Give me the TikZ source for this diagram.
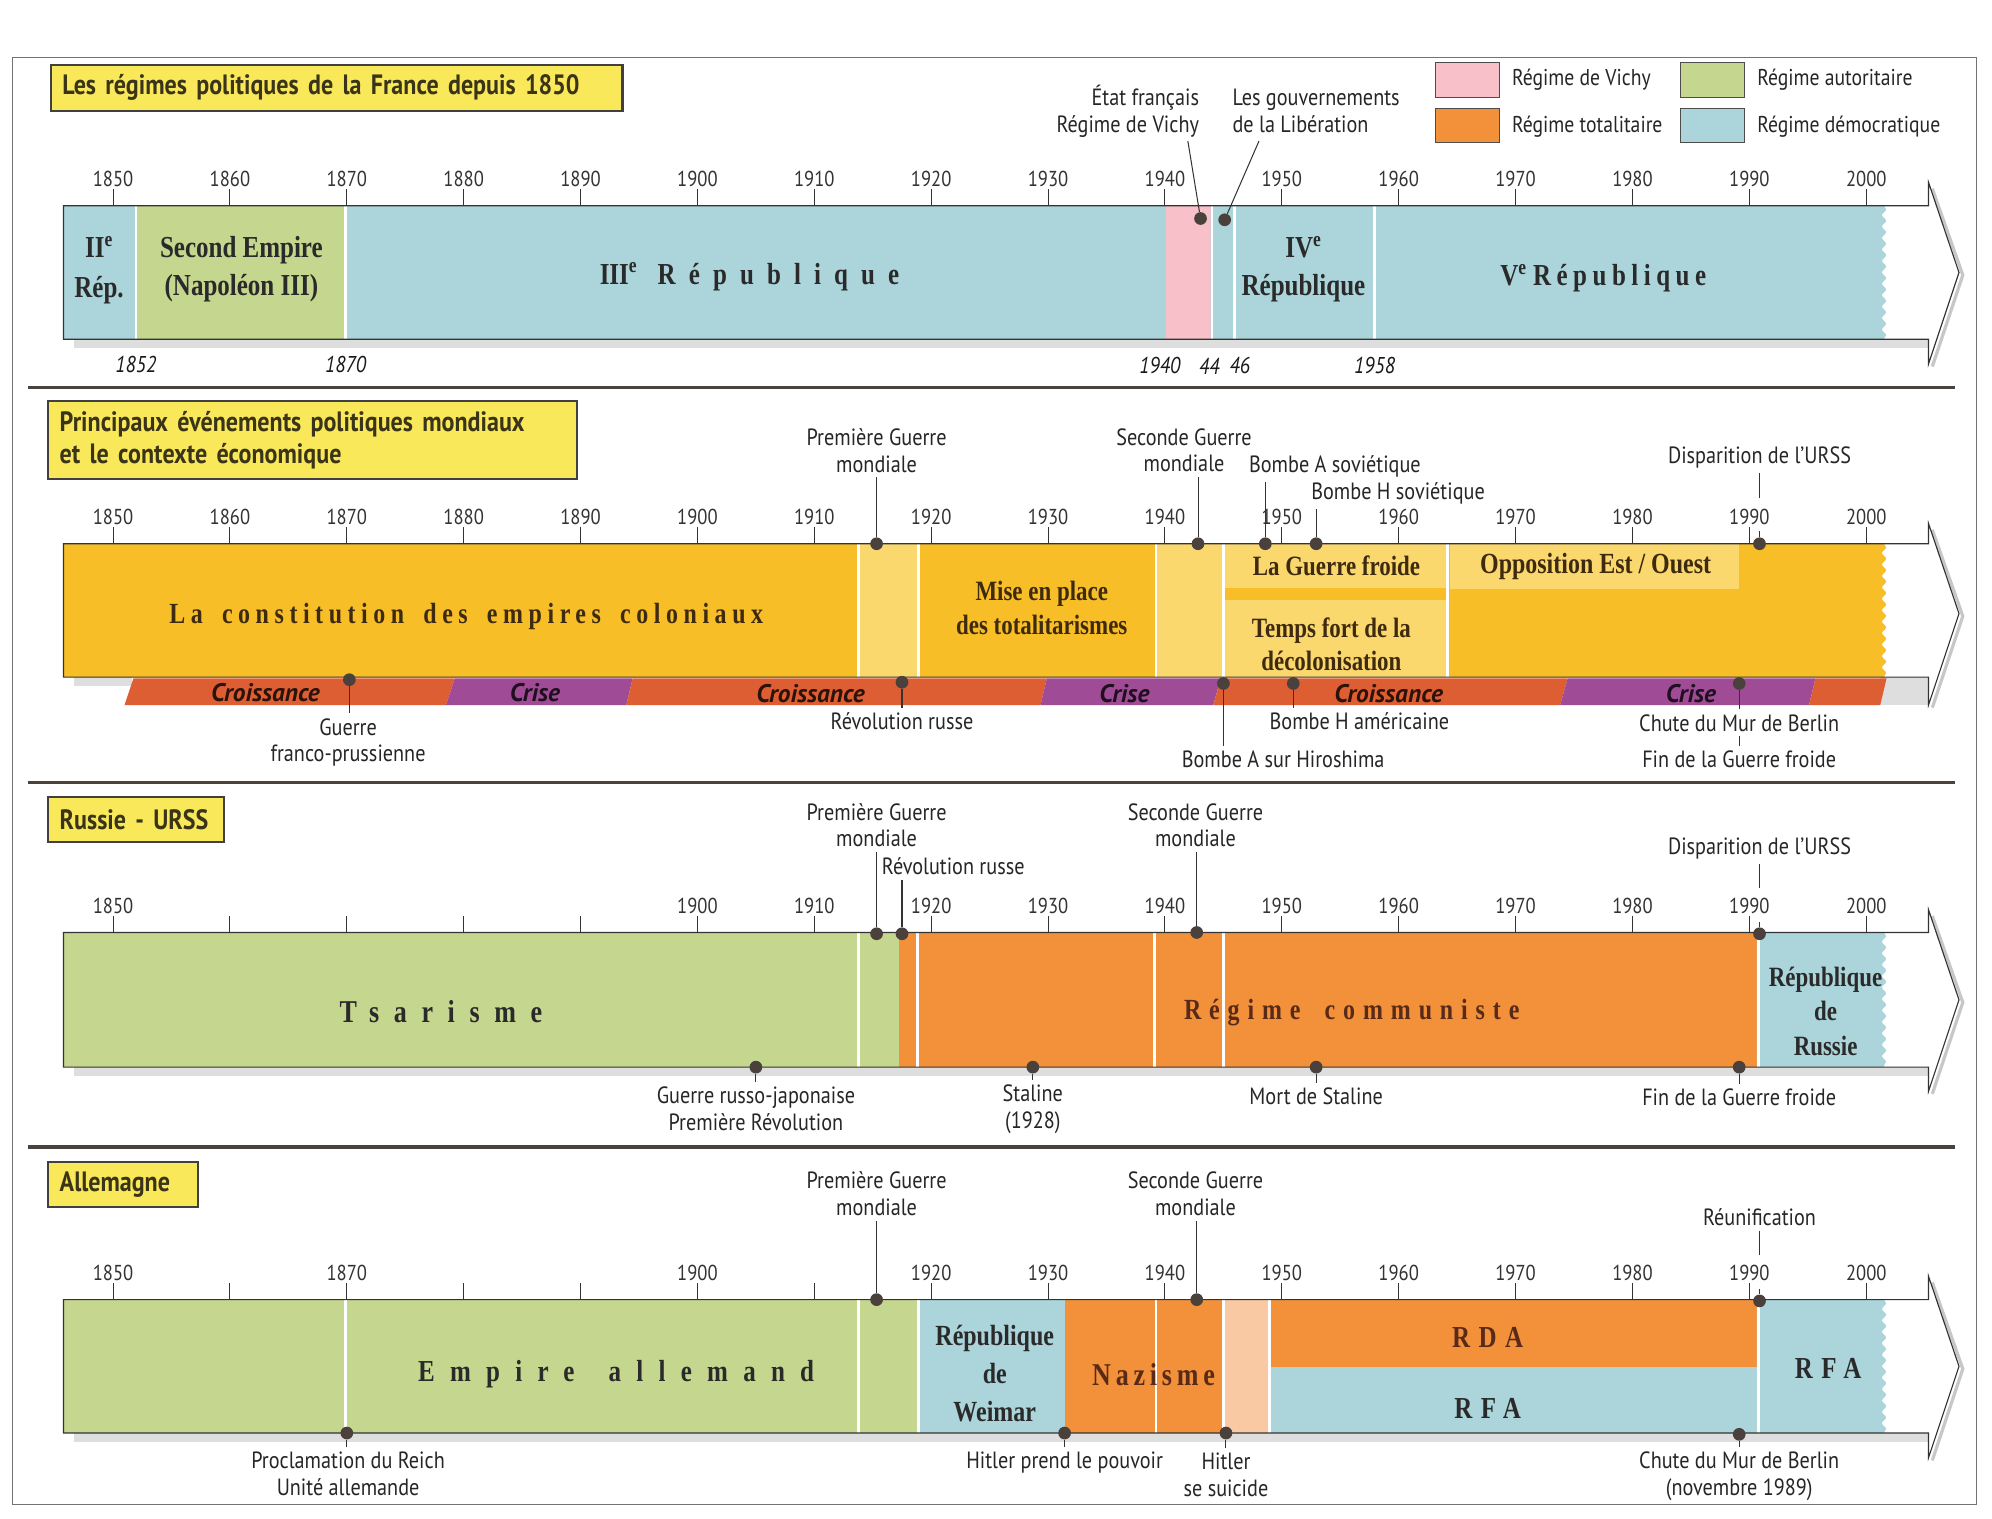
\documentclass[tikz,border=0pt]{standalone}
\usepackage{fontspec}
\setmainfont[FakeStretch=0.86]{PT Sans}
\newfontfamily\sansw{PT Sans}
\newfontfamily\serfont[FakeStretch=0.82]{Liberation Serif}
\usetikzlibrary{decorations.pathmorphing}
\definecolor{demo}{HTML}{ACD5DB}
\definecolor{agreen}{HTML}{C5D68E}
\definecolor{vichy}{HTML}{F8C0C8}
\definecolor{tota}{HTML}{F2913A}
\definecolor{peach}{HTML}{F9C9A4}
\definecolor{ttlyel}{HTML}{F9E85A}
\definecolor{evmain}{HTML}{F7BE28}
\definecolor{evlight}{HTML}{FAD86E}
\definecolor{croi}{HTML}{DE5E34}
\definecolor{crise}{HTML}{A04B96}
\definecolor{dotc}{HTML}{4A403C}
\definecolor{sepc}{HTML}{4B423E}
\definecolor{txtc}{HTML}{2A2A2A}
\definecolor{brn}{HTML}{5A2A18}
\definecolor{evtc}{HTML}{3E2A0E}
\definecolor{ttltxt}{HTML}{3A3418}
\tikzset{
  yrlbl/.style={font=\fontsize{17}{17}\selectfont, text=black!80, inner sep=0pt},
  itlbl/.style={font=\itshape\fontsize{18}{18}\selectfont, text=black!90, inner sep=0pt},
  evtxt/.style={font=\fontsize{18.5}{21}\selectfont, text=black!85, align=center, inner sep=0pt, outer ysep=4pt},
  dotn/.style={circle, fill=dotc, inner sep=0pt, minimum size=10pt},
  lnk/.style={draw=black!80, line width=0.8pt},
  tickln/.style={draw=black!80, line width=0.8pt},
  ttlbox/.style={draw=black!75, line width=1.6pt, fill=ttlyel, font=\bfseries\fontsize{22}{25}\selectfont, text=ttltxt, align=left, inner xsep=9pt, inner ysep=0pt},
  legbox/.style={draw=black!70, line width=0.8pt, minimum width=50pt, minimum height=27pt, inner sep=0pt},
  legtxt/.style={font=\fontsize{18}{18}\selectfont, text=black!85, anchor=west, inner sep=0pt},
  ser/.style={font=\serfont\bfseries\fontsize{23}{30}\selectfont, text=txtc, align=center, inner sep=0pt},
  econ/.style={font=\sansw\bfseries\itshape\fontsize{20}{20}\selectfont, inner sep=0pt},
}
\newcommand\wavyfill[4]{\fill[#1] (#2,#3) -- (1483,#3) decorate[decoration={snake,amplitude=1.6pt,segment length=9pt}]{-- (1483,#4)} -- (#2,#4) -- cycle;}
\newcommand\wsep[3]{\draw[white, line width=2.2pt] (#1,#2) -- (#1,#3);}
\newcommand\barframe[3]{%
  \draw[black!22, line width=2.5pt] (1521,#3-66) -- (1545,#3+2) -- (1521,#3+74);
  \draw[black!80, line width=0.9pt, line join=miter] (1518,#2) -- (50,#2) -- (50,#1) -- (1518,#1) -- (1518,#3-71) -- (1542,#3) -- (1518,#3+72) -- cycle;}
\newcommand\yearaxis[3]{%
  \foreach \yr in {1850,1860,...,2000}{\pgfmathsetmacro\xx{89+(\yr-1850)*9.2}\draw[tickln] (\xx,#1-13) -- (\xx,#1);}
  \foreach \yr in {#3}{\pgfmathsetmacro\xx{89+(\yr-1850)*9.2}\node[yrlbl] (#2\yr) at (\xx,#1-21) {\yr};}}
\begin{document}
\begin{tikzpicture}[x=1pt,y=-1pt]
\useasboundingbox (0,0) rectangle (1568,1195);
\fill[white] (0,0) rectangle (1568,1195);
% frame and separators
\draw[black!55, line width=1pt] (10,45) rectangle (1556,1184);
\draw[sepc, line width=3pt] (22,305) -- (1539,305);
\draw[sepc, line width=3pt] (22,616) -- (1539,616);
\draw[sepc, line width=3pt] (22,903) -- (1539,903);

%%%%%%%%%%%%%%%% SECTION 1 : France
\node[ttlbox, minimum height=36pt, text width=432pt] (t1) at (265,69) {Les régimes politiques de la France depuis 1850};
% legend
\node[legbox, fill=vichy] (lg1) at (1155,63) {};
\node[legtxt] (lt1) at (1190,63) {Régime de Vichy};
\node[legbox, fill=tota] (lg2) at (1155,99) {};
\node[legtxt] (lt2) at (1190,100) {Régime totalitaire};
\node[legbox, fill=agreen] (lg3) at (1348,63) {};
\node[legtxt] (lt3) at (1383,63) {Régime autoritaire};
\node[legbox, fill=demo] (lg4) at (1348,99) {};
\node[legtxt] (lt4) at (1383,100) {Régime démocratique};

\fill[black!13] (58,267) rectangle (1518,274);
\fill[demo] (50,162) rectangle (107,267);
\fill[agreen] (107,162) rectangle (272,267);
\fill[demo] (272,162) rectangle (918,267);
\fill[vichy] (918,162) rectangle (953,267);
\wavyfill{demo}{953}{162}{267}
\wsep{107}{162}{267}\wsep{272}{162}{267}\wsep{954}{162}{267}\wsep{972}{162}{267}\wsep{1082}{162}{267}
\barframe{162}{267}{214.5}
\yearaxis{162}{ya}{1850,1860,...,2000}

\node[ser, font=\serfont\bfseries\fontsize{24}{31}\selectfont] (r2) at (78,212.5) {II\textsuperscript{e}\\Rép.};
\node[ser, font=\serfont\bfseries\fontsize{24}{30}\selectfont] (se) at (190,212) {Second Empire\\(Napoléon III)};
\node[ser, font=\serfont\bfseries\fontsize{24}{30}\selectfont] (r3) at (590,218) {III\textsuperscript{e}\hspace{16pt}{\addfontfeature{LetterSpace=43}République}};
\node[ser, font=\serfont\bfseries\fontsize{24}{30}\selectfont] (r4) at (1026,212) {IV\textsuperscript{e}\\République};
\node[ser, font=\serfont\bfseries\fontsize{24}{30}\selectfont] (r5) at (1262,219) {V\textsuperscript{e} {\addfontfeature{LetterSpace=18}République}};

\node[itlbl] (y1852) at (107,287) {1852};
\node[itlbl] (y1870) at (272,287) {1870};
\node[itlbl] (y1940) at (913,288) {1940};
\node[itlbl] (y44) at (952,288) {44};
\node[itlbl] (y46) at (976,288) {46};
\node[itlbl] (y1958) at (1082,288) {1958};

\node[evtxt, align=right, anchor=east] (vichyt) at (944,87.5) {État français\\Régime de Vichy};
\node[evtxt, align=left, anchor=west] (libt) at (970,87.5) {Les gouvernements\\de la Libération};
\node[dotn] (dv) at (945,172) {};
\node[dotn] (dl) at (964,173) {};
\coordinate (cv) at (935,111);
\coordinate (cl) at (991,111);
\draw[lnk] (dv) -- (cv);
\draw[lnk] (dl) -- (cl);

%%%%%%%%%%%%%%%% SECTION 2 : events
\node[ttlbox, minimum height=61pt, text width=398pt] (t2) at (246,346.5) {Principaux événements politiques mondiaux\\et le contexte économique};
\fill[black!13] (58,533) rectangle (104,540);
\fill[black!13] (1480,533) rectangle (1518,555);
\wavyfill{evmain}{50}{428}{533}
\fill[evlight] (676,428) rectangle (722,533);
\fill[evlight] (911,428) rectangle (962,533);
\fill[evlight] (964,428) rectangle (1138,463);
\fill[evlight] (964,472) rectangle (1138,533);
\fill[evlight] (1141,428) rectangle (1369,464);
\wsep{676}{428}{533}\wsep{723}{428}{533}\wsep{910}{428}{533}\wsep{963}{428}{533}\wsep{1139.5}{428}{533}
\barframe{428}{533}{483}
\yearaxis{428}{yb}{1850,1860,...,2000}
% economic strip
\fill[croi] (105,534) -- (358,534) -- (351,555) -- (98,555) -- cycle;
\fill[crise] (358,534) -- (498,534) -- (493,555) -- (351,555) -- cycle;
\fill[croi] (498,534) -- (824,534) -- (819,555) -- (493,555) -- cycle;
\fill[crise] (824,534) -- (961,534) -- (955,555) -- (819,555) -- cycle;
\fill[croi] (961,534) -- (1234,534) -- (1228,555) -- (955,555) -- cycle;
\fill[crise] (1234,534) -- (1429,534) -- (1424,555) -- (1228,555) -- cycle;
\fill[croi] (1429,534) -- (1485,534) -- (1480,555) -- (1424,555) -- cycle;
\node[econ, text=black!80!croi] (ec1) at (209,545) {Croissance};
\node[econ, text=black!80!crise] (ec2) at (421,545) {Crise};
\node[econ, text=black!80!croi] (ec3) at (638,546) {Croissance};
\node[econ, text=black!80!crise] (ec4) at (885,546) {Crise};
\node[econ, text=black!80!croi] (ec5) at (1093,546) {Croissance};
\node[econ, text=black!80!crise] (ec6) at (1331,546) {Crise};

\node[ser, text=evtc, font=\serfont\bfseries\fontsize{23}{30}\selectfont\addfontfeature{LetterSpace=19}] (colo) at (367,485) {La\hspace{6pt} constitution\hspace{6pt} des\hspace{6pt} empires\hspace{6pt} coloniaux};
\node[ser, text=evtc, font=\serfont\bfseries\fontsize{22}{27}\selectfont] (mise) at (820,478.5) {Mise en place\\des totalitarismes};
\node[ser, text=evtc, font=\serfont\bfseries\fontsize{22}{27}\selectfont] (gfr) at (1052,445) {La Guerre froide};
\node[ser, text=evtc, font=\serfont\bfseries\fontsize{22}{26}\selectfont] (tfd) at (1048,507) {Temps fort de la\\décolonisation};
\node[ser, text=evtc, font=\serfont\bfseries\fontsize{23}{27}\selectfont] (oppo) at (1256,446) {Opposition Est / Ouest};

\node[evtxt] (pg2) at (690,354.5) {Première Guerre\\mondiale};
\node[dotn] (dpg2) at (690,428) {};
\draw[lnk] (pg2) -- (dpg2);
\node[evtxt] (sg2) at (932,354.5) {Seconde Guerre\\mondiale};
\node[dotn] (dsg2) at (943,428) {};
\draw[lnk] (dsg2) -- (dsg2 |- sg2.south);
\node[evtxt, anchor=west] (basov) at (983,367) {Bombe A soviétique};
\node[dotn] (dbasov) at (996,428) {};
\draw[lnk] (dbasov) -- (dbasov |- basov.south);
\node[evtxt, anchor=west] (bhsov) at (1032,388) {Bombe H soviétique};
\node[dotn] (dbhsov) at (1036,428) {};
\draw[lnk] (dbhsov) -- (dbhsov |- bhsov.south);
\node[evtxt] (urss2) at (1385,360) {Disparition de l'URSS};
\node[dotn] (durss2) at (1385,428) {};
\coordinate (u2a) at (1385,392);
\coordinate (u2b) at (1385,418);
\draw[lnk] (urss2.south) -- (u2a);
\draw[lnk] (u2b) -- (durss2);

\node[evtxt] (gfp) at (274,584.5) {Guerre\\franco-prussienne};
\node[dotn] (dgfp) at (275,535) {};
\draw[lnk] (dgfp) -- (dgfp |- gfp.north);
\node[evtxt] (revr) at (710,568) {Révolution russe};
\node[dotn] (drevr) at (710,537) {};
\draw[lnk] (drevr) -- (revr);
\node[evtxt] (hiro) at (1010,598) {Bombe A sur Hiroshima};
\node[dotn] (dhiro) at (963,538) {};
\draw[lnk] (dhiro) -- (dhiro |- hiro.north);
\node[evtxt] (bham) at (1070,568) {Bombe H américaine};
\node[dotn] (dbham) at (1018,538) {};
\draw[lnk] (dbham) -- (dbham |- bham.north);
\node[evtxt] (chute2) at (1369,569) {Chute du Mur de Berlin};
\node[dotn] (dchute2) at (1369,538) {};
\draw[lnk] (dchute2) -- (chute2);
\node[evtxt] (fin2) at (1369,598) {Fin de la Guerre froide};
\draw[lnk] (chute2) -- (fin2);

%%%%%%%%%%%%%%%% SECTION 3 : Russia
\node[ttlbox, minimum height=36pt, text width=120pt] (t3) at (107,645) {Russie - URSS};
\fill[black!13] (58,840) rectangle (1518,847);
\fill[agreen] (50,734) rectangle (708,840);
\fill[tota] (708,734) rectangle (1383,840);
\wavyfill{demo}{1383}{734}{840}
\wsep{676}{734}{840}\wsep{722}{734}{840}\wsep{909}{734}{840}\wsep{963}{734}{840}\wsep{1384}{734}{840}
\barframe{734}{840}{787}
\yearaxis{734}{yc}{1850,1900,1910,...,2000}

\node[ser, font=\serfont\bfseries\fontsize{25}{30}\selectfont\addfontfeature{LetterSpace=46}] (tsar) at (347,796) {Tsarisme};
\node[ser, text=brn, font=\serfont\bfseries\fontsize{23}{30}\selectfont\addfontfeature{LetterSpace=27}] (regc) at (1064,797) {Régime\hspace{8pt} communiste};
\node[ser, font=\serfont\bfseries\fontsize{22}{27}\selectfont] (repru) at (1437,796) {République\\de\\Russie};

\node[evtxt] (pg3) at (690,649.5) {Première Guerre\\mondiale};
\node[dotn] (dpg3) at (690,735) {};
\draw[lnk] (pg3) -- (dpg3);
\node[evtxt, anchor=west] (revr3) at (694,682) {Révolution russe};
\node[dotn] (drevr3) at (710,735) {};
\draw[lnk] (drevr3) -- (drevr3 |- revr3.south);
\node[evtxt] (sg3) at (941,649.5) {Seconde Guerre\\mondiale};
\node[dotn] (dsg3) at (942,734) {};
\draw[lnk] (dsg3) -- (dsg3 |- sg3.south);
\node[evtxt] (urss3) at (1385,668) {Disparition de l'URSS};
\node[dotn] (durss3) at (1385,735) {};
\coordinate (u3a) at (1385,699);
\coordinate (u3b) at (1385,726);
\draw[lnk] (urss3.south) -- (u3a);
\draw[lnk] (u3b) -- (durss3);

\node[evtxt] (rj) at (595,873) {Guerre russo-japonaise\\Première Révolution};
\node[dotn] (drj) at (595,840) {};
\draw[lnk] (drj) -- (rj);
\node[evtxt] (stal) at (813,873) {Staline\\(1928)};
\node[dotn] (dstal) at (813,840) {};
\draw[lnk] (dstal) -- (stal);
\node[evtxt] (mstal) at (1036,863) {Mort de Staline};
\node[dotn] (dmstal) at (1036,840) {};
\draw[lnk] (dmstal) -- (mstal);
\node[evtxt] (fin3) at (1369,864) {Fin de la Guerre froide};
\node[dotn] (dfin3) at (1369,840) {};
\draw[lnk] (dfin3) -- (fin3);

%%%%%%%%%%%%%%%% SECTION 4 : Germany
\node[ttlbox, minimum height=35pt, text width=100pt] (t4) at (97,932.5) {Allemagne};
\fill[black!13] (58,1128) rectangle (1518,1135);
\fill[agreen] (50,1023) rectangle (722,1128);
\fill[demo] (722,1023) rectangle (838,1128);
\fill[tota] (838,1023) rectangle (962,1128);
\fill[peach] (962,1023) rectangle (1000,1128);
\fill[tota] (1000,1023) rectangle (1383,1076);
\fill[demo] (1000,1076) rectangle (1383,1128);
\wavyfill{demo}{1383}{1023}{1128}
\wsep{272}{1023}{1128}\wsep{676}{1023}{1128}\wsep{723}{1023}{1128}\wsep{910}{1023}{1128}\wsep{963}{1023}{1128}\wsep{999.5}{1023}{1128}\wsep{1384}{1023}{1128}
\barframe{1023}{1128}{1075.5}
\yearaxis{1023}{yd}{1850,1870,1900,1920,1930,...,2000}

\node[ser, font=\serfont\bfseries\fontsize{24}{30}\selectfont\addfontfeature{LetterSpace=50}] (empa) at (485,1082) {Empire\hspace{10pt} allemand};
\node[ser, font=\serfont\bfseries\fontsize{23}{30}\selectfont] (weim) at (783,1081) {République\\de\\Weimar};
\node[ser, text=brn, font=\serfont\bfseries\fontsize{25}{30}\selectfont\addfontfeature{LetterSpace=15}] (nazi) at (908,1082) {Nazisme};
\node[ser, text=brn, font=\serfont\bfseries\fontsize{24}{30}\selectfont\addfontfeature{LetterSpace=28}] (rda) at (1171,1053) {RDA};
\node[ser, font=\serfont\bfseries\fontsize{24}{30}\selectfont\addfontfeature{LetterSpace=28}] (rfa1) at (1171,1109) {RFA};
\node[ser, font=\serfont\bfseries\fontsize{24}{30}\selectfont\addfontfeature{LetterSpace=28}] (rfa2) at (1439,1077) {RFA};

\node[evtxt] (pg4) at (690,939.5) {Première Guerre\\mondiale};
\node[dotn] (dpg4) at (690,1023) {};
\draw[lnk] (pg4) -- (dpg4);
\node[evtxt] (sg4) at (941,939.5) {Seconde Guerre\\mondiale};
\node[dotn] (dsg4) at (942,1023) {};
\draw[lnk] (dsg4) -- (dsg4 |- sg4.south);
\node[evtxt] (reun) at (1385,958) {Réunification};
\node[dotn] (dreun) at (1385,1024) {};
\coordinate (u4a) at (1385,988);
\coordinate (u4b) at (1385,1015);
\draw[lnk] (reun.south) -- (u4a);
\draw[lnk] (u4b) -- (dreun);

\node[evtxt] (proc) at (274,1160) {Proclamation du Reich\\Unité allemande};
\node[dotn] (dproc) at (273,1128) {};
\draw[lnk] (dproc) -- (dproc |- proc.north);
\node[evtxt] (hpp) at (838,1151) {Hitler prend le pouvoir};
\node[dotn] (dhpp) at (838,1128) {};
\draw[lnk] (dhpp) -- (hpp);
\node[evtxt] (hss) at (965,1161) {Hitler\\se suicide};
\node[dotn] (dhss) at (965,1128) {};
\draw[lnk] (dhss) -- (hss);
\node[evtxt] (chute4) at (1369,1162) {Chute du Mur de Berlin\\(novembre 1989)};
\node[dotn] (dchute4) at (1369,1129) {};
\draw[lnk] (dchute4) -- (chute4);
\end{tikzpicture}
\end{document}
